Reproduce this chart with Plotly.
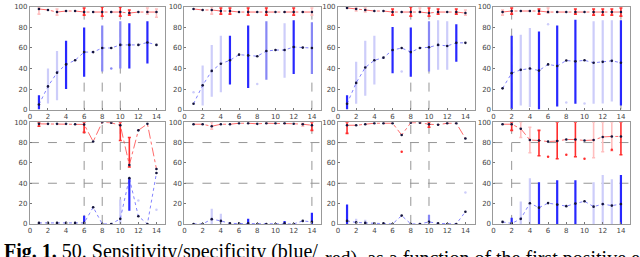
import plotly.graph_objects as go

# ---------------- data ----------------
X = list(range(1, 15))
X_TICKS = list(range(0, 15, 2))
Y_TICKS = list(range(0, 101, 20))
H_GUIDES_BOTTOM = [40, 80]

# top row, panel 1
T1_SENS = [5, 22.6, 36, 44, 48, 56, 56, 60, 60, 63, 63, 63, 65.4, 63]
T1_SPEC = [98, 97, 95, 96, 96, 95, 95, 95, 95, 95, 94, 95, 95, 95]
T1_SENS_DARK = [(1, 0, 14), (4, 20, 67), (6, 32, 80), (11, 40, 84), (13, 45, 86)]
T1_SENS_MID = [(8, 37, 82), (10, 40, 86)]
T1_SENS_LIGHT = [(2, 6, 40), (3, 9, 57)]
T1_SENS_OUT = [(9, 40)]
T1_SPEC_DARK = [(6, 92, 99), (8, 91, 100), (10, 91, 100), (11, 92, 97)]
T1_SPEC_LIGHT = [(1, 93, 100), (3, 92, 98), (13, 93, 99), (14, 90, 98)]
T1_SPEC_OUT = []
T1_VLINES = [6, 8, 10]

# top row, panel 2
T2_SENS = [5.7, 23.6, 37.7, 44.7, 48, 53.5, 52.8, 52, 57, 58, 58, 61, 60.4, 60]
T2_SPEC = [98, 97, 97, 96, 96, 95, 95, 95, 95, 95, 95, 95, 95, 95]
T2_SENS_DARK = [(5, 24.5, 72), (7, 21, 82), (12, 34.6, 87)]
T2_SENS_MID = [(9, 29, 86), (14, 34.6, 85)]
T2_SENS_LIGHT = [(2, 4, 43), (3, 12.6, 63), (4, 17, 72), (11, 31, 84)]
T2_SENS_OUT = [(1, 17), (8, 25)]
T2_SPEC_DARK = [(4, 93, 99), (5, 93, 99), (7, 92, 99), (9, 92, 99), (12, 92, 99)]
T2_SPEC_LIGHT = [(3, 93, 100), (14, 92, 99)]
T2_SPEC_OUT = []
T2_VLINES = [14]

# top row, panel 3
T3_SENS = [5.7, 26, 41, 48, 50.6, 58, 60, 56, 60, 60.7, 63, 62, 65, 65]
T3_SPEC = [99, 98, 97, 96, 96, 95, 95, 95, 95, 94, 95, 95, 95, 94]
T3_SENS_DARK = [(1, 0, 14), (6, 35.5, 80.5), (8, 32, 80), (13, 46.5, 83)]
T3_SENS_MID = [(10, 37, 86)]
T3_SENS_LIGHT = [(2, 5.7, 46.5), (3, 13.5, 67), (4, 24.5, 72), (11, 38.7, 87), (12, 38.7, 86)]
T3_SENS_OUT = [(7, 37)]
T3_SPEC_DARK = [(6, 92, 98), (8, 91, 100), (10, 91, 99), (11, 93, 98), (13, 93, 98)]
T3_SPEC_LIGHT = [(2, 96, 99), (3, 95, 99), (9, 95, 99), (14, 92, 97)]
T3_SPEC_OUT = []
T3_VLINES = [8, 10]

# top row, panel 4
T4_SENS = [20.7, 35.5, 38.7, 40, 38, 44, 42.5, 47.8, 47, 48, 45.6, 46.5, 47.5, 45.6]
T4_SPEC = [95, 96, 96, 96, 96, 95, 95, 95, 95, 95, 95, 95, 95, 95]
T4_SENS_DARK = [(2, 0, 72), (5, 0, 76), (7, 3, 82), (9, 5.7, 87.4), (14, 4, 87)]
T4_SENS_MID = []
T4_SENS_LIGHT = [(3, 4, 73), (4, 2.5, 79.5), (11, 5.7, 86), (12, 6, 87), (13, 8, 87)]
T4_SENS_OUT = [(6, 83), (8, 7), (10, 6)]
T4_SPEC_DARK = [(2, 93, 99), (5, 93, 98), (9, 93, 98), (11, 92, 98), (12, 92, 98), (13, 92, 98), (14, 91, 99)]
T4_SPEC_LIGHT = [(1, 92, 97), (6, 94, 99)]
T4_SPEC_OUT = []
T4_VLINES = [2, 14]

# bottom row, panel 1
B1_SENS = [1, 1, 1, 1, 1, 1, 16.4, 0, 0, 5, 45, 7.5, 0, 50]
B1_SPEC = [98.4, 98.4, 98.4, 98.4, 98, 97.8, 81, 100, 99.4, 97, 58, 92, 98.4, 54]
B1_SENS_DARK = [(6, 0, 8), (11, 13, 43)]
B1_SENS_MID = []
B1_SENS_LIGHT = [(10, 0, 24)]
B1_SENS_OUT = [(12, 23), (14, 14)]
B1_SPEC_DARK = [(1, 96, 100), (6, 90, 100), (10, 82, 100), (11, 56, 85)]
B1_SPEC_LIGHT = []
B1_SPEC_OUT = []
B1_VLINES = [6, 8, 10]

# bottom row, panel 2
B2_SENS = [0, 0, 4.7, 3, 0.5, 0.5, 0.5, 0, 0, 0, 0.5, 0, 3, 2]
B2_SPEC = [98, 98, 96, 98, 98, 99, 99, 98.4, 99, 99, 99, 98.5, 98, 97]
B2_SENS_DARK = [(7, 0, 5), (11, 0, 3), (14, 0, 11)]
B2_SENS_MID = []
B2_SENS_LIGHT = [(3, 0, 15), (4, 0, 10)]
B2_SENS_OUT = []
B2_SPEC_DARK = [(14, 92, 100)]
B2_SPEC_LIGHT = [(3, 93, 100), (13, 96, 99)]
B2_SPEC_OUT = []
B2_VLINES = [14]

# bottom row, panel 3
B3_SENS = [3, 1.5, 1, 0.5, 0.5, 0, 8.2, 0, 0, 2, 0.5, 0, 0, 12]
B3_SPEC = [97, 97, 98, 99, 99, 99, 87.4, 99.5, 99.5, 98, 97.5, 99, 99, 84]
B3_SENS_DARK = [(1, 0, 19)]
B3_SENS_MID = [(10, 0, 9)]
B3_SENS_LIGHT = [(2, 0, 5), (3, 0, 4)]
B3_SENS_OUT = [(14, 31)]
B3_SPEC_DARK = [(1, 89, 100), (10, 95, 100)]
B3_SPEC_LIGHT = []
B3_SPEC_OUT = [(7, 71)]
B3_VLINES = [8, 10]

# bottom row, panel 4
B4_SENS = [2, 0.5, 5, 20.4, 16, 20.5, 19, 17.5, 20, 22.3, 17, 19.5, 18, 19.5]
B4_SPEC = [98, 98, 93.6, 82.5, 82, 81, 81.5, 83, 83, 82, 82.5, 85.5, 86, 86]
B4_SENS_DARK = [(2, 0, 6), (5, 0, 41), (7, 0, 43), (9, 0, 43), (14, 0, 48)]
B4_SENS_MID = []
B4_SENS_LIGHT = [(3, 0, 22), (4, 0, 45), (11, 0, 41), (12, 0, 48), (13, 0, 44)]
B4_SENS_OUT = []
B4_SPEC_DARK = [(2, 92, 100), (5, 67, 92), (7, 64, 100), (9, 66, 100), (14, 68, 100)]
B4_SPEC_LIGHT = [(3, 85, 100), (4, 70, 95), (11, 65, 100), (12, 71, 100), (13, 72, 100)]
B4_SPEC_OUT = [(6, 66), (8, 68), (10, 64), (13, 73)]
B4_VLINES = [2]

CAPTION_LEFT = "<b>Fig. 1.</b> 50. Sensitivity/specificity (blue/"
CAPTION_RIGHT = "red)  as a function of the first positive examples, all"

PANELS = [
    (T1_SENS, T1_SPEC, T1_SENS_DARK, T1_SENS_MID, T1_SENS_LIGHT, T1_SENS_OUT, T1_SPEC_DARK, T1_SPEC_LIGHT, T1_SPEC_OUT, T1_VLINES, []),
    (T2_SENS, T2_SPEC, T2_SENS_DARK, T2_SENS_MID, T2_SENS_LIGHT, T2_SENS_OUT, T2_SPEC_DARK, T2_SPEC_LIGHT, T2_SPEC_OUT, T2_VLINES, []),
    (T3_SENS, T3_SPEC, T3_SENS_DARK, T3_SENS_MID, T3_SENS_LIGHT, T3_SENS_OUT, T3_SPEC_DARK, T3_SPEC_LIGHT, T3_SPEC_OUT, T3_VLINES, []),
    (T4_SENS, T4_SPEC, T4_SENS_DARK, T4_SENS_MID, T4_SENS_LIGHT, T4_SENS_OUT, T4_SPEC_DARK, T4_SPEC_LIGHT, T4_SPEC_OUT, T4_VLINES, []),
    (B1_SENS, B1_SPEC, B1_SENS_DARK, B1_SENS_MID, B1_SENS_LIGHT, B1_SENS_OUT, B1_SPEC_DARK, B1_SPEC_LIGHT, B1_SPEC_OUT, B1_VLINES, H_GUIDES_BOTTOM),
    (B2_SENS, B2_SPEC, B2_SENS_DARK, B2_SENS_MID, B2_SENS_LIGHT, B2_SENS_OUT, B2_SPEC_DARK, B2_SPEC_LIGHT, B2_SPEC_OUT, B2_VLINES, H_GUIDES_BOTTOM),
    (B3_SENS, B3_SPEC, B3_SENS_DARK, B3_SENS_MID, B3_SENS_LIGHT, B3_SENS_OUT, B3_SPEC_DARK, B3_SPEC_LIGHT, B3_SPEC_OUT, B3_VLINES, H_GUIDES_BOTTOM),
    (B4_SENS, B4_SPEC, B4_SENS_DARK, B4_SENS_MID, B4_SENS_LIGHT, B4_SENS_OUT, B4_SPEC_DARK, B4_SPEC_LIGHT, B4_SPEC_OUT, B4_VLINES, H_GUIDES_BOTTOM),
]

# ---------------- style ----------------
W, H = 640, 257
X_DOMAINS = [(28, 164), (183, 320), (337, 474), (493, 630)]   # pixels
Y_DOMAINS = [(3, 109), (122, 227)]                             # pixels from top

BLUE_DARK = "rgb(40,40,255)"
BLUE_MID = "rgb(135,135,245)"
BLUE_LIGHT = "rgb(205,205,250)"
RED_DARK = "rgb(255,45,45)"
RED_LIGHT = "rgb(255,190,190)"
SENS_LINE = "rgba(90,90,255,0.75)"
SPEC_LINE = "rgba(255,70,70,0.8)"
GUIDE = "rgb(150,150,150)"

fig = go.Figure()


def add_err(series, bars, color, thick, cap, xa, ya):
    if not bars:
        return
    xs = [b[0] for b in bars]
    ys = [series[b[0] - 1] for b in bars]
    plus = [max(b[2] - y, 0) for b, y in zip(bars, ys)]
    minus = [max(y - b[1], 0) for b, y in zip(bars, ys)]
    fig.add_trace(go.Scatter(
        x=xs, y=ys, mode="markers", xaxis=xa, yaxis=ya,
        marker=dict(size=1, color="rgba(0,0,0,0)"),
        error_y=dict(type="data", symmetric=False, array=plus, arrayminus=minus,
                     color=color, thickness=thick, width=cap),
        hoverinfo="skip"))


def add_out(points, color, xa, ya):
    if not points:
        return
    fig.add_trace(go.Scatter(
        x=[p[0] for p in points], y=[p[1] for p in points], mode="markers",
        xaxis=xa, yaxis=ya, marker=dict(size=2.5, color=color), hoverinfo="skip"))


shapes = []
for i, (sens, spec, sd, sm, sl, so, pd_, pl, po, vlines, hlines) in enumerate(PANELS):
    n = i + 1
    xa = "x" if n == 1 else f"x{n}"
    ya = "y" if n == 1 else f"y{n}"
    add_err(sens, sl, BLUE_LIGHT, 2.2, 0, xa, ya)
    add_err(spec, pl, RED_LIGHT, 1.6, 1.5, xa, ya)
    add_err(sens, sm, BLUE_MID, 2.2, 0, xa, ya)
    fig.add_trace(go.Scatter(x=X, y=sens, mode="lines", xaxis=xa, yaxis=ya,
                             line=dict(color=SENS_LINE, width=1, dash="dot"), hoverinfo="skip"))
    fig.add_trace(go.Scatter(x=X, y=spec, mode="lines", xaxis=xa, yaxis=ya,
                             line=dict(color=SPEC_LINE, width=1, dash="dashdot"), hoverinfo="skip"))
    add_err(sens, sd, BLUE_DARK, 2.2, 0, xa, ya)
    add_err(spec, pd_, RED_DARK, 1.6, 1.5, xa, ya)
    add_out(so, BLUE_LIGHT if n != 1 else BLUE_MID, xa, ya)
    add_out(po, RED_DARK, xa, ya)
    fig.add_trace(go.Scatter(x=X + X, y=sens + spec, mode="markers", xaxis=xa, yaxis=ya,
                             marker=dict(size=2.6, color="rgb(20,20,60)"), hoverinfo="skip"))
    for v in vlines:
        shapes.append(dict(type="line", xref=xa, yref=ya, x0=v, x1=v, y0=0, y1=100,
                           line=dict(color=GUIDE, width=1, dash="dash"), layer="below"))
    for hv in hlines:
        shapes.append(dict(type="line", xref=xa, yref=ya, x0=0, x1=15, y0=hv, y1=hv,
                           line=dict(color=GUIDE, width=1, dash="dash"), layer="below"))

layout = dict(width=W, height=H, margin=dict(l=0, r=0, t=0, b=0),
              paper_bgcolor="white", plot_bgcolor="white", showlegend=False,
              shapes=shapes)

for i in range(8):
    n = i + 1
    col = i % 4
    row = i // 4
    xd = X_DOMAINS[col]
    yd = Y_DOMAINS[row]
    xk = "xaxis" if n == 1 else f"xaxis{n}"
    yk = "yaxis" if n == 1 else f"yaxis{n}"
    ya = "y" if n == 1 else f"y{n}"
    xa = "x" if n == 1 else f"x{n}"
    layout[xk] = dict(domain=[xd[0] / W, xd[1] / W], anchor=ya, range=[0, 15],
                      tickvals=X_TICKS, ticks="inside", ticklen=2, tickcolor="#777",
                      tickfont=dict(family="DejaVu Sans", size=7, color="#444"),
                      showgrid=False, zeroline=False, showline=True, mirror=True,
                      linecolor="#999", linewidth=1)
    layout[yk] = dict(domain=[(H - yd[1]) / H, (H - yd[0]) / H], anchor=xa, range=[0, 100],
                      tickvals=Y_TICKS, ticks="inside", ticklen=2, tickcolor="#777",
                      tickfont=dict(family="DejaVu Sans", size=7, color="#444"),
                      showgrid=False, zeroline=False, showline=True, mirror=True,
                      linecolor="#999", linewidth=1)

fig.update_layout(**layout)

fig.add_annotation(text=CAPTION_LEFT, xref="paper", yref="paper", x=0, y=(H - 242) / H,
                   xanchor="left", yanchor="top", showarrow=False,
                   font=dict(family="Liberation Serif", size=20, color="black"))
fig.add_annotation(text=CAPTION_RIGHT, xref="paper", yref="paper", x=322 / W, y=(H - 249) / H,
                   xanchor="left", yanchor="top", showarrow=False,
                   font=dict(family="Liberation Serif", size=20, color="black"))

fig.write_html("out.html", config={"displayModeBar": False},
               post_script="document.body.style.margin='0px';document.body.style.overflow='hidden';")
